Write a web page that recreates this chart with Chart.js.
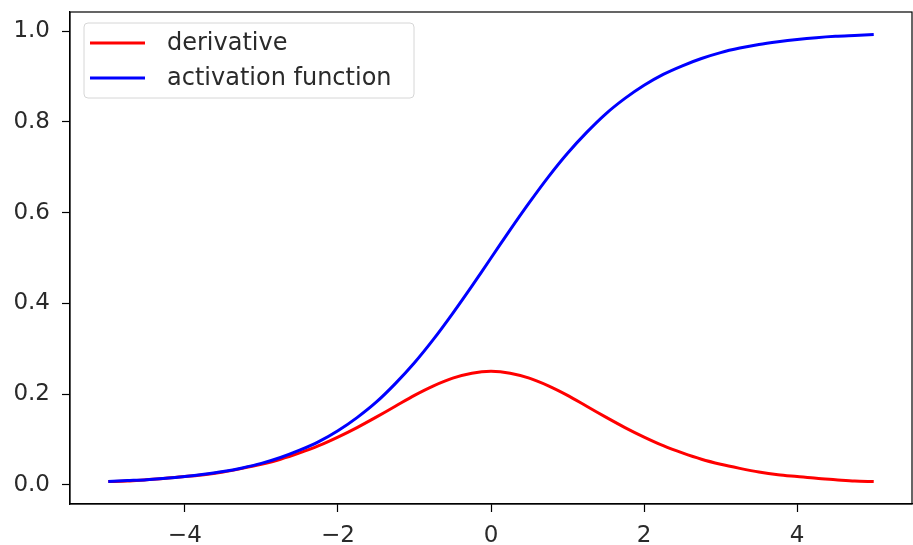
<!DOCTYPE html>
<html>
<head>
<meta charset="utf-8">
<script src="https://cdn.jsdelivr.net/npm/chart.js@4.4.1/dist/chart.umd.min.js"></script>
<style>
  html, body { margin: 0; padding: 0; background: #fff; }
  #sigChart { display: block; }
</style>
</head>
<body>
<canvas id="sigChart" width="913" height="545"></canvas>
<script>
// values, x from -5 to 5 in steps of 0.25
const xValues = [-5, -4.75, -4.5, -4.25, -4, -3.75, -3.5, -3.25, -3, -2.75, -2.5, -2.25, -2, -1.75, -1.5, -1.25, -1, -0.75, -0.5, -0.25,
  0, 0.25, 0.5, 0.75, 1, 1.25, 1.5, 1.75, 2, 2.25, 2.5, 2.75, 3, 3.25, 3.5, 3.75, 4, 4.25, 4.5, 4.75, 5];
const derivativeValues = [0.007, 0.008, 0.011, 0.014, 0.018, 0.022, 0.028, 0.036, 0.045, 0.056, 0.070, 0.086, 0.105, 0.126, 0.149, 0.173, 0.197, 0.218, 0.235, 0.246,
  0.250, 0.246, 0.235, 0.218, 0.197, 0.173, 0.149, 0.126, 0.105, 0.086, 0.070, 0.056, 0.045, 0.036, 0.028, 0.022, 0.018, 0.014, 0.011, 0.008, 0.007];
const activationValues = [0.007, 0.009, 0.011, 0.014, 0.018, 0.023, 0.029, 0.037, 0.047, 0.060, 0.076, 0.095, 0.119, 0.148, 0.182, 0.223, 0.269, 0.321, 0.378, 0.438,
  0.500, 0.562, 0.622, 0.679, 0.731, 0.777, 0.818, 0.852, 0.881, 0.905, 0.924, 0.940, 0.953, 0.963, 0.971, 0.977, 0.982, 0.986, 0.989, 0.991, 0.993];
const xTicks = [-4, -2, 0, 2, 4];
const yTicks = [0, 0.2, 0.4, 0.6, 0.8, 1.0];

const FONT = 'DejaVu Sans';
const TEXT = '#2a2a2a';

function toPoints(ys) {
    return xValues.map((x, i) => ({ x: x, y: ys[i] }));
}

// top/right spines
const framePlugin = {
    id: 'frame',
    afterDatasetsDraw(chart) {
        const a = chart.chartArea, ctx = chart.ctx;
        ctx.save();
        ctx.strokeStyle = '#000';
        ctx.lineWidth = 1.2;
        ctx.strokeRect(a.left, a.top, a.right - a.left, a.bottom - a.top);
        ctx.restore();
    }
};

// matplotlib-style legend box in upper left
const boxLegend = {
    id: 'boxLegend',
    afterDraw(chart) {
        const ctx = chart.ctx, a = chart.chartArea;
        const x = a.left + 14, y = a.top + 11, w = 330, h = 75;
        ctx.save();
        ctx.beginPath();
        ctx.roundRect(x, y, w, h, 4);
        ctx.fillStyle = 'rgba(255,255,255,0.8)';
        ctx.fill();
        ctx.strokeStyle = '#d6d6d6';
        ctx.lineWidth = 1;
        ctx.stroke();
        ctx.font = '24px "' + FONT + '"';
        ctx.textBaseline = 'middle';
        chart.data.datasets.forEach((ds, i) => {
            const cy = y + 20 + i * 35;
            ctx.strokeStyle = ds.borderColor;
            ctx.lineWidth = 3;
            ctx.beginPath();
            ctx.moveTo(x + 6, cy);
            ctx.lineTo(x + 61, cy);
            ctx.stroke();
            ctx.fillStyle = TEXT;
            ctx.fillText(ds.label, x + 83, cy + 1);
        });
        ctx.restore();
    }
};

new Chart(document.getElementById('sigChart'), {
    type: 'scatter',
    data: {
        datasets: [
            { label: 'derivative', data: toPoints(derivativeValues), borderColor: '#ff0000', order: 2 },
            { label: 'activation function', data: toPoints(activationValues), borderColor: '#0000ff', order: 1 }
        ]
    },
    options: {
        responsive: false,
        animation: false,
        showLine: true,
        layout: { padding: { top: 12, right: 1, left: 0, bottom: 0 } },
        elements: {
            point: { radius: 0, hoverRadius: 0 },
            line: { borderWidth: 3, tension: 0.3, fill: false }
        },
        plugins: { legend: { display: false }, tooltip: { enabled: false } },
        scales: {
            x: {
                type: 'linear',
                min: -5.5,
                max: 5.5,
                afterBuildTicks: s => { s.ticks = xTicks.map(v => ({ value: v })); },
                afterFit: s => { s.height = 41; s.paddingLeft = 0; s.paddingRight = 0; },
                grid: { drawOnChartArea: false, drawTicks: true, tickLength: 8, color: '#000', tickWidth: 1.2 },
                border: { display: true, color: '#000', width: 1.2 },
                ticks: {
                    color: TEXT,
                    font: { family: FONT, size: 23 },
                    padding: 10,
                    maxRotation: 0,
                    callback: v => (v < 0 ? '\u2212' + Math.abs(v) : String(v))
                }
            },
            y: {
                type: 'linear',
                min: -0.0426,
                max: 1.0426,
                afterBuildTicks: s => { s.ticks = yTicks.map(v => ({ value: v })); },
                afterFit: s => { s.width = 70; s.paddingTop = 0; s.paddingBottom = 0; },
                grid: { drawOnChartArea: false, drawTicks: true, tickLength: 8, color: '#000', tickWidth: 1.2 },
                border: { display: true, color: '#000', width: 1.2 },
                ticks: {
                    color: TEXT,
                    font: { family: FONT, size: 23 },
                    padding: 12,
                    callback: v => v.toFixed(1)
                }
            }
        }
    },
    plugins: [framePlugin, boxLegend]
});
</script>
</body>
</html>
